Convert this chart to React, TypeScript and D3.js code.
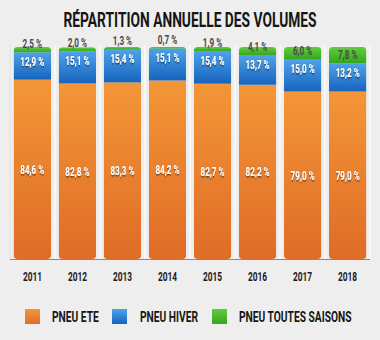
import React from "react";
import * as d3 from "d3";

const years = ["2011", "2012", "2013", "2014", "2015", "2016", "2017", "2018"];
const ete = [84.6, 82.8, 83.3, 84.2, 82.7, 82.2, 79.0, 79.0];
const hiver = [12.9, 15.1, 15.4, 15.1, 15.4, 13.7, 15.0, 13.2];
const toutes = [2.5, 2.0, 1.3, 0.7, 1.9, 4.1, 6.0, 7.8];
const legendLabels = ["PNEU ETE", "PNEU HIVER", "PNEU TOUTES SAISONS"];
const title = "RÉPARTITION ANNUELLE DES VOLUMES";

const W = 380, H = 340;
const FONT = "Roboto, 'DejaVu Sans', sans-serif";

const fmt = (v: number) => v.toFixed(1).replace(".", ",") + " %";

function Txt(props: { x: number; y: number; sx?: number; size: number; fill: string; anchor?: string; filter?: string; children: React.ReactNode }) {
  const { x, y, sx = 0.7, size, fill, anchor = "middle", filter, children } = props;
  return (
    <text
      transform={`translate(${x},${y}) scale(${sx},1)`}
      fontFamily={FONT}
      fontWeight="bold"
      fontSize={size}
      fill={fill}
      textAnchor={anchor}
      filter={filter}
    >
      {children}
    </text>
  );
}

export default function App() {
  const x = d3.scaleBand<string>().domain(years).range([10, 370]).paddingInner(0.17).paddingOuter(0.08);
  const y = d3.scaleLinear().domain([0, 100]).range([259, 47]);
  const bands = d3.scaleBand<string>().domain(years).range([10, 370]);
  const bw = x.bandwidth();

  const grads = [
    { id: "gO", top: "#f39637", bot: "#df6c27" },
    { id: "gB", top: "#4fa2e8", bot: "#1664be" },
    { id: "gG", top: "#62cc3e", bot: "#34a51f" },
  ];

  const legendX = [25, 112, 212];
  const legendTX = [52, 140, 239];

  return (
    <svg width={W} height={H} style={{ position: "absolute", left: 0, top: 0, background: "#eeeeee" }}>
      <defs>
        {grads.map((g) => (
          <linearGradient key={g.id} id={g.id} x1="0" y1="0" x2="0" y2="1">
            <stop offset="0" stopColor={g.top} />
            <stop offset="1" stopColor={g.bot} />
          </linearGradient>
        ))}
        <filter id="sh" x="-20%" y="-30%" width="140%" height="160%">
          <feDropShadow dx="0" dy="1" stdDeviation="0.8" floodColor="#000" floodOpacity="0.7" />
        </filter>
        {years.map((yr, i) => (
          <clipPath key={yr} id={"c" + i}>
            <rect x={x(yr)} y={y(ete[i] + hiver[i] + toutes[i])} width={bw} height={y(0) - y(ete[i] + hiver[i] + toutes[i])} rx={4} />
          </clipPath>
        ))}
      </defs>
      <rect x={0} y={0} width={W} height={H} fill="#eeeeee" />
      <Txt x={190} y={27} size={20} sx={0.69} fill="#151515">{title}</Txt>
      {years.map((yr) => (
        <line key={"g" + yr} x1={bands(yr)!} x2={bands(yr)!} y1={45} y2={259} stroke="#fafafa" strokeWidth={1.5} />
      ))}
      <line x1={370} x2={370} y1={45} y2={259} stroke="#fafafa" strokeWidth={1.5} />
      <line x1={10} x2={10} y1={45} y2={259} stroke="#d8d8d8" strokeWidth={1} />
      {years.map((yr, i) => {
        const x0 = x(yr)!;
        const segs = [
          { v0: 0, v1: ete[i], fill: "url(#gO)" },
          { v0: ete[i], v1: ete[i] + hiver[i], fill: "url(#gB)" },
          { v0: ete[i] + hiver[i], v1: ete[i] + hiver[i] + toutes[i], fill: "url(#gG)" },
        ];
        return (
          <g key={yr} clipPath={`url(#c${i})`}>
            {segs.map((s, k) => (
              <rect key={k} x={x0} y={y(s.v1)} width={bw} height={y(s.v0) - y(s.v1)} fill={s.fill} />
            ))}
          </g>
        );
      })}
      <line x1={10} x2={370} y1={259.5} y2={259.5} stroke="#8a8a8a" strokeWidth={1.2} />
      {years.map((yr, i) => {
        const cx = x(yr)! + bw / 2;
        const boundary = y(ete[i] + hiver[i]);
        return (
          <g key={"l" + yr}>
            <Txt x={cx} y={(y(0) + y(ete[i])) / 2 + 4.5} size={12} sx={0.68} fill="#fff" filter="url(#sh)">{fmt(ete[i])}</Txt>
            <Txt x={cx} y={boundary + 13.5} size={12} sx={0.68} fill="#fff" filter="url(#sh)">{fmt(hiver[i])}</Txt>
            <Txt x={cx} y={boundary - 4.5} size={12} sx={0.68} fill="#4a4a4a">{fmt(toutes[i])}</Txt>
            <Txt x={bands(yr)! + bands.bandwidth() / 2} y={281} size={13} sx={0.64} fill="#1a1a1a">{yr}</Txt>
          </g>
        );
      })}
      {grads.map((g, k) => (
        <g key={"lg" + k}>
          <rect x={legendX[k]} y={309} width={15} height={15} fill={`url(#${g.id})`} />
          <Txt x={legendTX[k]} y={322} size={15.5} sx={0.66} anchor="start" fill="#151515">{legendLabels[k]}</Txt>
        </g>
      ))}
    </svg>
  );
}
